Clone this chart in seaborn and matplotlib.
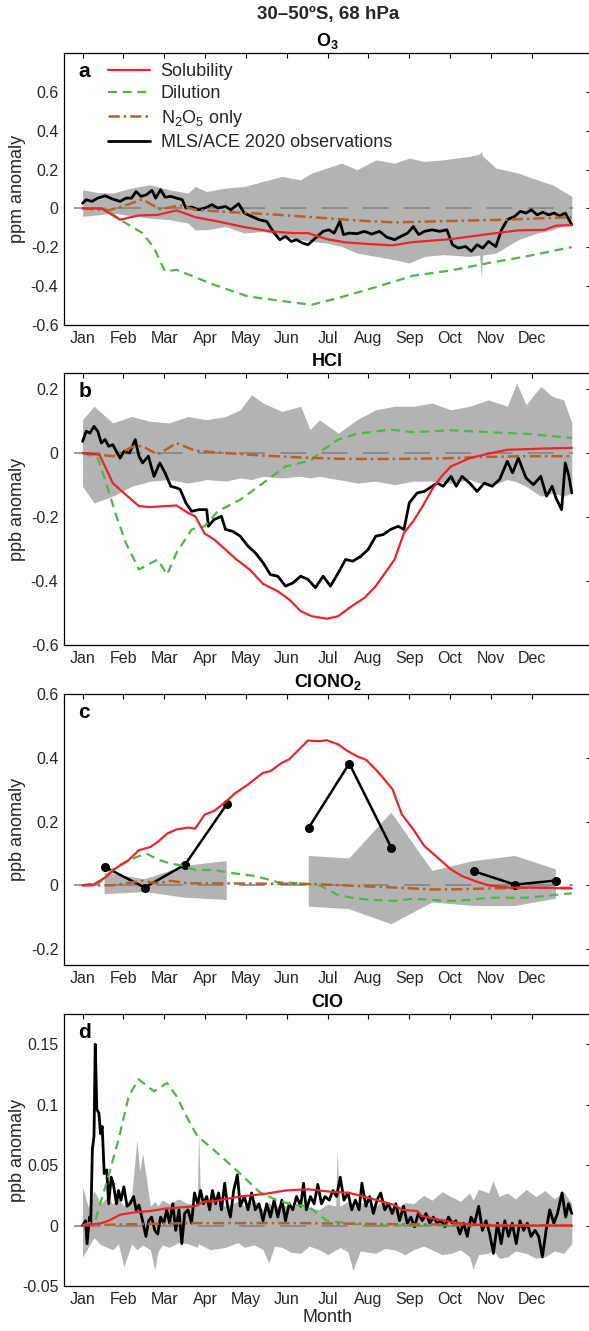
import numpy as np
import pandas as pd
import matplotlib
matplotlib.use("Agg")
import matplotlib.pyplot as plt
import seaborn as sns

# ---------------- data (x in months, 1 = 1 Jan, 13 = 31 Dec) ----------------
month_ticks = [1, 2, 3, 4, 5, 6, 7, 8, 9, 10, 11, 12]
month_labels = ["Jan", "Feb", "Mar", "Apr", "May", "Jun", "Jul", "Aug", "Sep", "Oct", "Nov", "Dec"]

# ---- panel a: O3 ----
a_red_x = [1.00, 1.46, 1.92, 2.38, 2.84, 3.30, 3.76, 4.31, 4.96, 5.60, 6.15, 6.52, 6.98, 7.44, 7.99, 8.59, 9.10, 10.02, 10.94, 11.67, 12.32, 12.59, 12.98]
a_red_y = [0, 0, -0.058, -0.036, -0.033, -0.010, -0.045, -0.067, -0.096, -0.118, -0.127, -0.127, -0.158, -0.175, -0.183, -0.190, -0.173, -0.158, -0.132, -0.113, -0.110, -0.089, -0.086]
a_grn_x = [1.00, 1.55, 1.92, 2.47, 2.75, 3.02, 3.30, 4.22, 5.05, 5.97, 6.61, 7.26, 8.18, 9.10, 10.02, 10.94, 11.86, 12.98]
a_grn_y = [0, 0, -0.058, -0.127, -0.204, -0.324, -0.316, -0.393, -0.453, -0.479, -0.496, -0.461, -0.405, -0.346, -0.319, -0.281, -0.247, -0.199]
a_brn_x = [1.00, 1.64, 2.10, 2.46, 2.90, 3.38, 3.76, 4.68, 5.60, 6.61, 7.72, 8.64, 9.56, 10.48, 11.40, 12.32, 12.98]
a_brn_y = [0, -0.010, 0.019, 0.047, -0.005, 0.016, -0.007, -0.020, -0.030, -0.045, -0.062, -0.072, -0.067, -0.062, -0.058, -0.050, -0.045]
a_obs_x = [1.00, 1.09, 1.23, 1.37, 1.55, 1.74, 1.92, 2.06, 2.20, 2.31, 2.43, 2.56, 2.70, 2.79, 2.91, 3.02, 3.16, 3.30, 3.44, 3.53,
           3.67, 3.85, 3.99, 4.17, 4.31, 4.50, 4.63, 4.82, 4.96, 5.14, 5.32, 5.51, 5.69, 5.83, 5.97, 6.11, 6.24, 6.38, 6.52, 6.70,
           6.89, 7.03, 7.16, 7.30, 7.39, 7.53, 7.72, 7.90, 8.08, 8.27, 8.45, 8.64, 8.82, 8.96, 9.10, 9.23, 9.37, 9.56, 9.74, 9.92,
           10.06, 10.20, 10.38, 10.52, 10.66, 10.80, 10.94, 11.12, 11.26, 11.40, 11.58, 11.72, 11.86, 11.99, 12.13, 12.27, 12.41,
           12.55, 12.68, 12.82, 12.98]
a_obs_y = [0.027, 0.045, 0.036, 0.053, 0.065, 0.048, 0.036, 0.053, 0.053, 0.087, 0.062, 0.070, 0.093, 0.053, 0.096, 0.058, 0.062, 0.053, 0.045, 0.002,
           0.007, -0.007, 0.002, 0.019, 0.002, 0.010, -0.007, 0.024, -0.024, -0.041, -0.058, -0.067, -0.127, -0.161, -0.144, -0.170, -0.161, -0.178, -0.187, -0.153,
           -0.118, -0.110, -0.127, -0.067, -0.135, -0.127, -0.130, -0.118, -0.132, -0.118, -0.148, -0.161, -0.141, -0.127, -0.093, -0.135, -0.118, -0.110, -0.118, -0.110,
           -0.187, -0.204, -0.196, -0.221, -0.187, -0.204, -0.170, -0.196, -0.110, -0.058, -0.041, -0.015, -0.024, -0.007, -0.033, -0.020, -0.033,
           -0.024, -0.038, -0.024, -0.084]
a_band_x = [1.00, 1.37, 1.74, 2.20, 2.66, 3.12, 3.58, 3.76, 4.04, 4.50, 4.96, 5.42, 5.88, 6.34, 6.61, 6.98, 7.35, 7.72, 8.18, 8.64,
            9.00, 9.37, 9.83, 10.48, 10.72, 10.76, 10.80, 11.12, 11.67, 12.13, 12.50, 12.98]
a_band_hi = [0.096, 0.082, 0.079, 0.105, 0.122, 0.096, 0.079, 0.113, 0.087, 0.105, 0.113, 0.139, 0.165, 0.147, 0.182, 0.208, 0.233, 0.199, 0.250, 0.233,
             0.259, 0.242, 0.250, 0.268, 0.280, 0.293, 0.270, 0.208, 0.182, 0.147, 0.122, 0.062]
a_band_lo = [-0.041, -0.033, -0.024, -0.038, -0.050, -0.058, -0.075, -0.110, -0.110, -0.093, -0.127, -0.118, -0.144, -0.161, -0.170, -0.178, -0.196, -0.230, -0.247, -0.264,
             -0.281, -0.247, -0.238, -0.247, -0.240, -0.350, -0.240, -0.230, -0.161, -0.127, -0.110, -0.075]

# ---- panel b: HCl ----
b_red_x = [1.00, 1.41, 1.55, 1.74, 2.01, 2.38, 2.66, 3.02, 3.30, 3.58, 3.76, 3.99, 4.22, 4.50, 4.77, 5.09, 5.42, 5.78, 6.06, 6.34,
           6.61, 6.98, 7.26, 7.53, 7.90, 8.18, 8.64, 8.87, 9.10, 9.33, 9.56, 9.79, 10.02, 10.48, 10.94, 11.40, 11.86, 12.32, 12.98]
b_red_y = [0, -0.005, -0.042, -0.094, -0.125, -0.166, -0.169, -0.166, -0.164, -0.187, -0.198, -0.252, -0.270, -0.302, -0.333, -0.364, -0.409, -0.432, -0.458, -0.494,
           -0.510, -0.518, -0.510, -0.484, -0.453, -0.416, -0.333, -0.250, -0.213, -0.166, -0.114, -0.073, -0.042, -0.016, -0.002, 0.010, 0.012, 0.014, 0.016]
b_grn_x = [1.00, 1.37, 1.55, 1.83, 2.06, 2.38, 2.84, 3.07, 3.30, 3.67, 3.99, 4.31, 4.86, 5.42, 5.97, 6.34, 6.61, 6.89, 7.26, 7.72,
           8.54, 9.10, 10.02, 10.94, 11.86, 12.98]
b_grn_y = [0, -0.016, -0.083, -0.198, -0.281, -0.364, -0.333, -0.380, -0.312, -0.239, -0.229, -0.182, -0.146, -0.094, -0.042, -0.031, -0.021, 0.010, 0.042, 0.060,
           0.073, 0.065, 0.071, 0.065, 0.060, 0.047]
b_brn_x = [1.00, 1.74, 2.29, 2.47, 2.84, 3.30, 3.76, 4.50, 5.42, 6.34, 7.26, 8.18, 9.10, 10.02, 10.94, 11.86, 12.98]
b_brn_y = [0, -0.010, 0.023, 0.021, -0.005, 0.031, 0.007, 0, -0.008, -0.014, -0.018, -0.019, -0.018, -0.016, -0.012, -0.010, -0.010]
b_obs_x = [1.00, 1.09, 1.18, 1.28, 1.37, 1.46, 1.55, 1.64, 1.74, 1.83, 1.92, 2.01, 2.15, 2.29, 2.38, 2.47, 2.61, 2.75, 2.89, 3.02,
           3.16, 3.30, 3.39, 3.53, 3.67, 3.85, 4.04, 4.08, 4.22, 4.40, 4.50, 4.68, 4.86, 5.05, 5.23, 5.42, 5.60, 5.78, 5.97, 6.15,
           6.34, 6.52, 6.70, 6.89, 7.07, 7.26, 7.44, 7.62, 7.81, 7.99, 8.18, 8.36, 8.54, 8.73, 8.87, 9.00, 9.19, 9.37, 9.56, 9.69,
           9.83, 10.02, 10.15, 10.29, 10.48, 10.66, 10.84, 11.03, 11.21, 11.40, 11.53, 11.67, 11.86, 12.04, 12.22, 12.36, 12.50,
           12.59, 12.73, 12.82, 12.91, 12.98]
b_obs_y = [0.036, 0.068, 0.062, 0.083, 0.068, 0.031, 0.042, 0.021, 0.026, 0.005, -0.016, 0.005, 0.000, 0.042, -0.010, -0.031, -0.010, -0.073, -0.031, -0.062,
           -0.104, -0.109, -0.114, -0.156, -0.182, -0.177, -0.177, -0.229, -0.208, -0.198, -0.239, -0.245, -0.260, -0.291, -0.312, -0.343, -0.380, -0.385, -0.416, -0.406,
           -0.385, -0.395, -0.421, -0.385, -0.416, -0.375, -0.333, -0.338, -0.323, -0.302, -0.260, -0.255, -0.239, -0.229, -0.239, -0.156, -0.125, -0.120, -0.104, -0.094,
           -0.104, -0.073, -0.104, -0.073, -0.094, -0.120, -0.094, -0.104, -0.083, -0.026, -0.062, -0.016, -0.078, -0.099, -0.073, -0.135, -0.104,
           -0.140, -0.177, -0.031, -0.073, -0.125]
b_band_x = [1.00, 1.28, 1.74, 2.20, 2.66, 3.12, 3.58, 4.04, 4.50, 4.86, 5.14, 5.42, 5.88, 6.34, 6.57, 6.80, 7.26, 7.72, 8.18, 8.64,
            9.10, 9.56, 10.02, 10.48, 10.94, 11.40, 11.63, 11.86, 12.22, 12.50, 12.78, 12.98]
b_band_hi = [0.104, 0.146, 0.094, 0.114, 0.099, 0.094, 0.114, 0.104, 0.114, 0.135, 0.182, 0.156, 0.130, 0.146, 0.073, 0.104, 0.062, 0.104, 0.135, 0.146,
             0.146, 0.156, 0.135, 0.146, 0.166, 0.146, 0.218, 0.151, 0.208, 0.177, 0.166, 0.094]
b_band_lo = [-0.104, -0.156, -0.135, -0.104, -0.088, -0.083, -0.094, -0.083, -0.088, -0.078, -0.083, -0.073, -0.078, -0.073, -0.078, -0.073, -0.083, -0.094, -0.088, -0.099,
             -0.088, -0.088, -0.094, -0.083, -0.104, -0.083, -0.090, -0.104, -0.135, -0.125, -0.135, -0.125]

# ---- panel c: ClONO2 ----
c_red_x = [1.00, 1.28, 1.55, 1.83, 2.10, 2.38, 2.66, 2.84, 3.07, 3.30, 3.58, 3.76, 3.99, 4.22, 4.50, 4.73, 5.05, 5.42, 5.60, 5.88,
           6.06, 6.34, 6.52, 6.80, 6.98, 7.26, 7.49, 7.72, 7.95, 8.18, 8.36, 8.59, 8.82, 9.10, 9.37, 9.56, 9.79, 10.02, 10.29, 10.66,
           10.94, 11.40, 11.86, 12.32, 12.98]
c_red_y = [0, 0.003, 0.024, 0.055, 0.076, 0.110, 0.120, 0.136, 0.162, 0.175, 0.181, 0.178, 0.222, 0.233, 0.261, 0.288, 0.316, 0.353, 0.358, 0.384,
           0.395, 0.431, 0.454, 0.452, 0.455, 0.442, 0.421, 0.405, 0.393, 0.363, 0.337, 0.301, 0.222, 0.175, 0.123, 0.102, 0.076, 0.050, 0.029, 0.011,
           0, -0.007, -0.007, -0.008, -0.010]
c_grn_x = [1.00, 1.41, 1.74, 2.01, 2.29, 2.56, 2.84, 3.12, 3.48, 3.76, 4.22, 4.68, 5.23, 5.78, 6.34, 6.80, 7.26, 7.72, 8.18, 8.64,
           9.10, 9.56, 10.02, 10.48, 10.94, 11.86, 12.98]
c_grn_y = [0, 0.008, 0.050, 0.071, 0.087, 0.100, 0.081, 0.069, 0.061, 0.048, 0.048, 0.038, 0.029, 0.010, 0.006, 0, -0.031, -0.042, -0.046, -0.049,
           -0.042, -0.046, -0.049, -0.046, -0.039, -0.039, -0.025]
c_brn_x = [1.00, 1.74, 2.47, 2.84, 3.16, 3.58, 4.50, 5.42, 6.34, 6.98, 7.72, 8.64, 9.56, 10.02, 10.94, 11.86, 12.98]
c_brn_y = [0, 0, 0.014, 0.006, 0.014, 0.006, 0.006, 0.005, 0.005, 0.002, -0.002, -0.007, -0.013, -0.013, -0.010, -0.008, -0.008]
c_mon_x = [1.54, 2.52, 3.51, 4.53, 5.53, 6.54, 7.53, 8.56, 9.57, 10.58, 11.59, 12.59]
c_obs_y = [0.058, -0.007, 0.065, 0.254, np.nan, 0.181, 0.382, 0.118, np.nan, 0.044, 0.002, 0.015]
c_band_hi = [0.040, 0.019, 0.061, 0.076, np.nan, 0.092, 0.084, 0.228, 0.045, 0.076, 0.092, 0.050]
c_band_lo = [-0.028, -0.021, -0.039, -0.046, np.nan, -0.067, -0.075, -0.122, -0.054, -0.065, -0.065, -0.042]

# ---- panel d: ClO ----
d_red_x = [1.00, 1.46, 1.64, 1.92, 2.29, 2.66, 3.02, 3.39, 3.76, 3.99, 4.22, 4.50, 4.86, 5.42, 5.97, 6.52, 6.80, 7.07, 7.53, 7.99,
           8.64, 8.82, 9.20, 9.30, 9.56, 10.02, 10.48, 10.94, 12.98]
d_red_y = [0, 0.002, 0.004, 0.009, 0.011, 0.012, 0.014, 0.015, 0.016, 0.020, 0.020, 0.022, 0.024, 0.026, 0.029, 0.030, 0.029, 0.028, 0.027, 0.023,
           0.017, 0.013, 0.012, 0.008, 0.006, 0.003, 0.001, 0, 0]
d_grn_x = [1.00, 1.31, 1.60, 1.88, 2.13, 2.37, 2.75, 3.07, 3.30, 3.58, 3.81, 4.13, 4.50, 4.86, 5.32, 5.69, 6.15, 6.52, 6.98, 7.72, 8.18, 12.98]
d_grn_y = [0, 0.004, 0.037, 0.071, 0.107, 0.121, 0.111, 0.118, 0.107, 0.088, 0.074, 0.065, 0.054, 0.043, 0.028, 0.022, 0.017, 0.016, 0.004, 0.001, 0, 0]
d_brn_x = [1.00, 2.01, 3.58, 6.34, 9.10, 12.98]
d_brn_y = [0, 0.001, 0.002, 0.002, 0.001, 0]
d_obs_x = [1.00, 1.07, 1.11, 1.17, 1.20, 1.24, 1.28, 1.31, 1.35, 1.40, 1.44, 1.48, 1.53, 1.59, 1.64, 1.70, 1.75, 1.83, 1.88, 1.94,
           2.01, 2.09, 2.16, 2.25, 2.31, 2.38, 2.47, 2.55, 2.62, 2.69, 2.77, 2.84, 2.91, 2.99, 3.06, 3.13, 3.21, 3.28, 3.36, 3.43,
           3.50, 3.58, 3.67, 3.74, 3.82, 3.89, 3.96, 4.04, 4.11, 4.18, 4.26, 4.33, 4.40, 4.48, 4.55, 4.62, 4.70, 4.79, 4.86, 4.96,
           5.05, 5.14, 5.23, 5.32, 5.42, 5.51, 5.60, 5.69, 5.78, 5.88, 5.97, 6.06, 6.15, 6.24, 6.34, 6.41, 6.48, 6.58, 6.67, 6.76,
           6.85, 6.94, 7.04, 7.13, 7.22, 7.31, 7.40, 7.50, 7.59, 7.68, 7.77, 7.84, 7.94, 8.03, 8.12, 8.21, 8.30, 8.40, 8.49, 8.58,
           8.67, 8.76, 8.86, 8.95, 9.04, 9.13, 9.22, 9.32, 9.41, 9.50, 9.59, 9.68, 9.78, 9.87, 9.96, 10.05, 10.14, 10.24, 10.33, 10.42,
           10.51, 10.60, 10.70, 10.79, 10.88, 10.97, 11.06, 11.16, 11.25, 11.34, 11.43, 11.52, 11.62, 11.71, 11.80, 11.89, 11.98, 12.08,
           12.17, 12.26, 12.35, 12.44, 12.54, 12.63, 12.74, 12.83, 12.90, 12.98]
d_obs_y = [0, 0.004, -0.015, 0.007, 0.002, 0.063, 0.074, 0.150, 0.096, 0.093, 0.076, 0.082, 0.043, 0.046, 0.018, 0.040, 0.035, 0.018, 0.029, 0.021,
           0.032, 0.016, 0.018, 0.024, 0.013, 0.017, 0.004, -0.009, 0.004, 0.007, -0.004, -0.007, 0.007, 0.002, 0.013, 0.002, 0.018, -0.004, 0.013, -0.015,
           0.010, 0.013, 0.002, 0.027, 0.018, 0.029, 0.018, 0.024, 0.013, 0.029, 0.018, 0.027, 0.013, 0.035, 0.016, 0.007, 0.029, 0.042, 0.016, 0.024,
           0.013, 0.027, 0.013, 0.018, 0.004, 0.018, 0.007, 0.021, 0.007, 0.021, 0.004, 0.018, 0.013, 0.024, 0.016, 0.035, 0.013, 0.024, 0.018, 0.034,
           0.018, 0.024, 0.021, 0.029, 0.024, 0.040, 0.021, 0.027, 0.013, 0.021, 0.013, 0.035, 0.016, 0.024, 0.010, 0.021, 0.027, 0.013, 0.018, 0.010,
           0.018, 0.004, 0.016, 0.002, 0.007, -0.001, 0.010, 0.004, 0.010, 0.002, 0.007, 0.002, 0.004, -0.001, 0.007, 0.002, 0.004, -0.007, 0.002, -0.009,
           0.007, 0.002, 0.016, -0.004, 0.004, -0.007, -0.023, 0.002, -0.015, 0.004, -0.009, 0.002, -0.015, 0.004, -0.004, 0.002, -0.009, -0.004,
           -0.009, -0.026, -0.004, 0.013, 0.002, 0.010, 0.027, 0.007, 0.018, 0.010]
d_band_x = [1.00, 1.14, 1.28, 1.45, 1.60, 1.74, 1.88, 2.01, 2.20, 2.33, 2.40, 2.47, 2.66, 2.77, 2.84, 2.95, 3.12, 3.35, 3.58, 3.81,
            3.84, 3.89, 4.13, 4.50, 4.80, 4.96, 5.20, 5.42, 5.56, 5.70, 5.88, 6.10, 6.34, 6.55, 6.80, 7.00, 7.20, 7.23, 7.30, 7.50,
            7.62, 7.80, 8.18, 8.40, 8.64, 8.90, 9.10, 9.35, 9.56, 9.80, 10.02, 10.25, 10.48, 10.56, 10.70, 10.94, 11.05, 11.20,
            11.40, 11.60, 11.86, 12.10, 12.32, 12.55, 12.78, 12.98]
d_band_hi = [0.032, 0.015, 0.029, 0.018, 0.024, 0.018, 0.022, 0.016, 0.024, 0.071, 0.045, 0.060, 0.016, 0.020, 0.016, 0.021, 0.018, 0.022, 0.018, 0.018,
             0.079, 0.018, 0.021, 0.016, 0.020, 0.016, 0.021, 0.013, 0.019, 0.015, 0.018, 0.014, 0.018, 0.015, 0.013, 0.018, 0.016, 0.062, 0.016, 0.020,
             0.015, 0.019, 0.016, 0.021, 0.013, 0.019, 0.018, 0.025, 0.021, 0.028, 0.024, 0.020, 0.027, 0.021, 0.030, 0.027, 0.037, 0.024,
             0.027, 0.022, 0.030, 0.024, 0.029, 0.022, 0.028, 0.018]
d_band_lo = [-0.026, -0.018, -0.010, -0.016, -0.018, -0.020, -0.015, -0.034, -0.015, -0.020, -0.018, -0.016, -0.020, -0.037, -0.022, -0.016, -0.018, -0.014, -0.015, -0.018,
             -0.015, -0.016, -0.020, -0.018, -0.014, -0.018, -0.016, -0.020, -0.031, -0.017, -0.018, -0.022, -0.023, -0.017, -0.020, -0.024, -0.020, -0.020, -0.018, -0.022,
             -0.037, -0.021, -0.023, -0.019, -0.020, -0.024, -0.020, -0.017, -0.020, -0.024, -0.023, -0.020, -0.026, -0.036, -0.024, -0.023, -0.020, -0.027,
             -0.026, -0.021, -0.023, -0.027, -0.026, -0.021, -0.023, -0.015]

panel_titles = ["O$_\\mathbf{3}$", "HCl", "ClONO$_\\mathbf{2}$", "ClO"]
panel_letters = ["a", "b", "c", "d"]
ylabels = ["ppm anomaly", "ppb anomaly", "ppb anomaly", "ppb anomaly"]
ylims = [(-0.6, 0.8), (-0.6, 0.25), (-0.25, 0.6), (-0.05, 0.175)]
yticks = [[-0.6, -0.4, -0.2, 0, 0.2, 0.4, 0.6], [-0.6, -0.4, -0.2, 0, 0.2], [-0.2, 0, 0.2, 0.4, 0.6], [-0.05, 0, 0.05, 0.1, 0.15]]
ytick_labels = [["-0.6", "-0.4", "-0.2", "0", "0.2", "0.4", "0.6"], ["-0.6", "-0.4", "-0.2", "0", "0.2"],
                ["-0.2", "0", "0.2", "0.4", "0.6"], ["-0.05", "0", "0.05", "0.1", "0.15"]]
legend_labels = ["Solubility", "Dilution", "N$_2$O$_5$ only", "MLS/ACE 2020 observations"]
suptitle = "30–50ºS, 68 hPa"
XLIM = (0.545, 13.45)
ZERO_SPAN = (0.78, 13.0)

# ---------------- style ----------------
sns.set_theme(style="white")
plt.rcParams["font.family"] = ["Liberation Sans", "DejaVu Sans"]
plt.rcParams["mathtext.fontset"] = "custom"
plt.rcParams["mathtext.rm"] = "Liberation Sans"
plt.rcParams["mathtext.it"] = "Liberation Sans:italic"
plt.rcParams["mathtext.bf"] = "Liberation Sans:bold"
plt.rcParams["axes.unicode_minus"] = False

RED = "#E8262B"
GREEN = "#4DB748"
BROWN = "#B5612B"
BAND = "#B3B3B3"
ZERO = "#7F7F7F"
TXT = "#262626"

W, H = 589, 1331
fig = plt.figure(figsize=(W / 100, H / 100), dpi=100)

def make_axes(top_px, bottom_px, left_px=64, right_px=591):
    return fig.add_axes([left_px / W, 1 - bottom_px / H, (right_px - left_px) / W, (bottom_px - top_px) / H])

axes = [make_axes(53, 325), make_axes(373, 645), make_axes(694, 965), make_axes(1014, 1286)]

def df(x, y):
    return pd.DataFrame({"m": x, "v": y})

panels = [
    dict(band=(a_band_x, a_band_lo, a_band_hi), obs=(a_obs_x, a_obs_y), red=(a_red_x, a_red_y), grn=(a_grn_x, a_grn_y), brn=(a_brn_x, a_brn_y)),
    dict(band=(b_band_x, b_band_lo, b_band_hi), obs=(b_obs_x, b_obs_y), red=(b_red_x, b_red_y), grn=(b_grn_x, b_grn_y), brn=(b_brn_x, b_brn_y)),
    dict(band=(c_mon_x, c_band_lo, c_band_hi), obs=None, red=(c_red_x, c_red_y), grn=(c_grn_x, c_grn_y), brn=(c_brn_x, c_brn_y)),
    dict(band=(d_band_x, d_band_lo, d_band_hi), obs=(d_obs_x, d_obs_y), red=(d_red_x, d_red_y), grn=(d_grn_x, d_grn_y), brn=(d_brn_x, d_brn_y)),
]

for i, (ax, p) in enumerate(zip(axes, panels)):
    bx, blo, bhi = p["band"]
    ax.fill_between(np.asarray(bx, float), np.asarray(blo, float), np.asarray(bhi, float), color=BAND, lw=0, zorder=1)
    ax.hlines(0, ZERO_SPAN[0], ZERO_SPAN[1], colors=ZERO, lw=1.1, linestyles=(0, (17, 10)), zorder=2)

    if p["obs"] is not None:
        sns.lineplot(data=df(*p["obs"]), x="m", y="v", ax=ax, color="black", lw=2.0, estimator=None,
                     label=legend_labels[3], zorder=3)
    else:
        obs = pd.DataFrame({"m": c_mon_x, "v": c_obs_y})
        obs["seg"] = np.cumsum(obs["v"].isna())
        obs = obs.dropna()
        sns.lineplot(data=obs, x="m", y="v", units="seg", estimator=None, ax=ax, color="black", lw=1.8,
                     marker="o", markersize=6.5, markeredgewidth=0, zorder=3)

    sns.lineplot(data=df(*p["grn"]), x="m", y="v", ax=ax, color=GREEN, lw=1.6, estimator=None,
                 linestyle=(0, (4, 2.6)), label=legend_labels[1], zorder=4)
    sns.lineplot(data=df(*p["brn"]), x="m", y="v", ax=ax, color=BROWN, lw=1.8, estimator=None,
                 linestyle=(0, (4.5, 1.6, 1.0, 1.6)), label=legend_labels[2], zorder=5)
    sns.lineplot(data=df(*p["red"]), x="m", y="v", ax=ax, color=RED, lw=1.6, estimator=None,
                 label=legend_labels[0], zorder=6)

    ax.set_xlim(*XLIM)
    ax.set_ylim(*ylims[i])
    ax.set_xticks(month_ticks)
    ax.set_xticklabels(month_labels)
    ax.set_yticks(yticks[i])
    ax.set_yticklabels(ytick_labels[i])
    ax.tick_params(direction="in", length=3.5, width=0.8, top=True, right=True, labelsize=11.5,
                   colors="black", labelcolor=TXT, pad=4)
    for s in ax.spines.values():
        s.set_linewidth(0.9)
        s.set_color("black")
    ax.set_ylabel(ylabels[i], fontsize=13, color=TXT)
    ax.yaxis.set_label_coords(-0.072, 0.5)
    ax.set_xlabel("Month" if i == 3 else "", fontsize=13, color=TXT, labelpad=2)
    ax.set_title(panel_titles[i], fontsize=13, fontweight="bold", pad=5, color="black")
    ax.text(0.027, 0.91, panel_letters[i], transform=ax.transAxes, fontsize=15, fontweight="bold",
            va="baseline", ha="left", color="black")

    if i == 0:
        h, l = ax.get_legend_handles_labels()
        order = [l.index(lbl) for lbl in legend_labels]
        ax.legend([h[k] for k in order], [l[k] for k in order], loc="upper left", bbox_to_anchor=(0.06, 1.01),
                  frameon=False, fontsize=13, handlelength=2.3, handletextpad=0.6, labelspacing=0.3,
                  borderaxespad=0.3)
    else:
        lg = ax.get_legend()
        if lg is not None:
            lg.remove()

fig.text(328 / W, 1 - 15 / H, suptitle, ha="center", va="center", fontsize=13.5, fontweight="bold", color=TXT)

fig.savefig("out.png", dpi=100)
